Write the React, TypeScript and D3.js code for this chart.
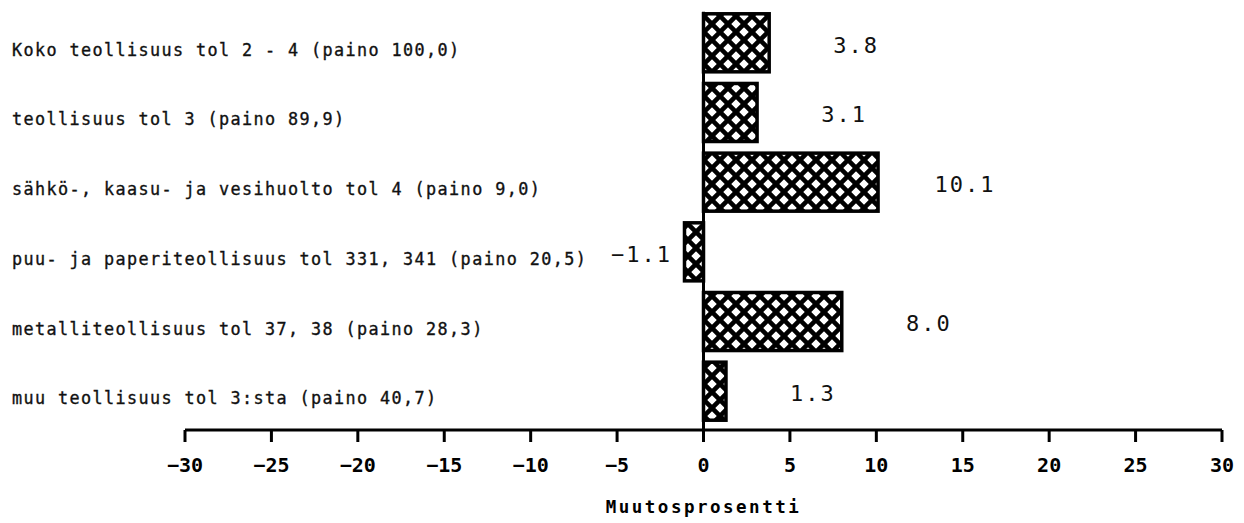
import { scaleBand, scaleLinear, format } from 'd3'

const categories = [
	'Koko teollisuus tol 2 - 4 (paino 100,0)',
	'teollisuus tol 3 (paino 89,9)',
	'sähkö-, kaasu- ja vesihuolto tol 4 (paino 9,0)',
	'puu- ja paperiteollisuus tol 331, 341 (paino 20,5)',
	'metalliteollisuus tol 37, 38 (paino 28,3)',
	'muu teollisuus tol 3:sta (paino 40,7)',
]

const values = [3.8, 3.1, 10.1, -1.1, 8.0, 1.3]

const xTicks = [-30, -25, -20, -15, -10, -5, 0, 5, 10, 15, 20, 25, 30]

const axisTitle = 'Muutosprosentti'

export default function App() {
	const width = 1244
	const height = 523
	const axisY = 430

	const x = scaleLinear().domain([-30, 30]).range([185, 1222])
	const y = scaleBand<string>().domain(categories).range([8, 426]).paddingInner(0.167).paddingOuter(0.083)

	const fmt = format('.1f')
	const labelFont = '"DejaVu Sans Mono", monospace'

	return (
		<div style={{ position: 'absolute', left: 0, top: 0 }}>
			<svg width={width} height={height} style={{ display: 'block', background: '#fff' }}>
				<defs>
					<pattern id="hatch" patternUnits="userSpaceOnUse" width={16} height={16}>
						<rect width={16} height={16} fill="#fff" />
						<path d="M-2,2 L2,-2 M0,16 L16,0 M14,18 L18,14" stroke="#000" strokeWidth={4.6} />
						<path d="M-2,14 L2,18 M0,0 L16,16 M14,-2 L18,2" stroke="#000" strokeWidth={4.6} />
					</pattern>
				</defs>

				{categories.map((cat, i) => {
					const v = values[i]
					const y0 = y(cat) ?? 0
					const bw = y.bandwidth()
					const cy = y0 + bw / 2
					const x0 = Math.min(x(0), x(v))
					const x1 = Math.max(x(0), x(v))
					return (
						<g key={cat}>
							<rect x={x0} y={y0} width={x1 - x0} height={bw} fill="url(#hatch)" stroke="#000" strokeWidth={3.5} />
							<text
								x={12}
								y={cy + 13}
								fontFamily={labelFont}
								fontSize={16.8}
								letterSpacing={1.4}
								fill="#111"
								stroke="#111"
								strokeWidth={0.35}
							>
								{cat}
							</text>
							<text
								x={v >= 0 ? x(v) + 87 : x(v) - 43}
								y={cy + 2}
								dy="0.35em"
								textAnchor="middle"
								fontFamily={labelFont}
								fontSize={22}
								letterSpacing={2}
								fill="#111"
							>
								{fmt(v)}
							</text>
						</g>
					)
				})}

				<line x1={x(0)} x2={x(0)} y1={(y(categories[0]) ?? 0) - 2} y2={axisY} stroke="#000" strokeWidth={3} />

				<line x1={x(-30)} x2={x(30)} y1={axisY} y2={axisY} stroke="#000" strokeWidth={3} />
				{xTicks.map((t) => (
					<g key={t}>
						<line x1={x(t)} x2={x(t)} y1={axisY} y2={axisY + 12} stroke="#000" strokeWidth={3} />
						<text
							x={x(t)}
							y={axisY + 35}
							dy="0.35em"
							textAnchor="middle"
							fontFamily={labelFont}
							fontWeight="bold"
							fontSize={20}
							fill="#000"
						>
							{format('d')(t)}
						</text>
					</g>
				))}

				<text
					x={x(0)}
					y={507}
					dy="0.35em"
					textAnchor="middle"
					fontFamily={labelFont}
					fontWeight="bold"
					fontSize={17.5}
					letterSpacing={2.5}
					fill="#000"
				>
					{axisTitle}
				</text>
			</svg>
		</div>
	)
}
